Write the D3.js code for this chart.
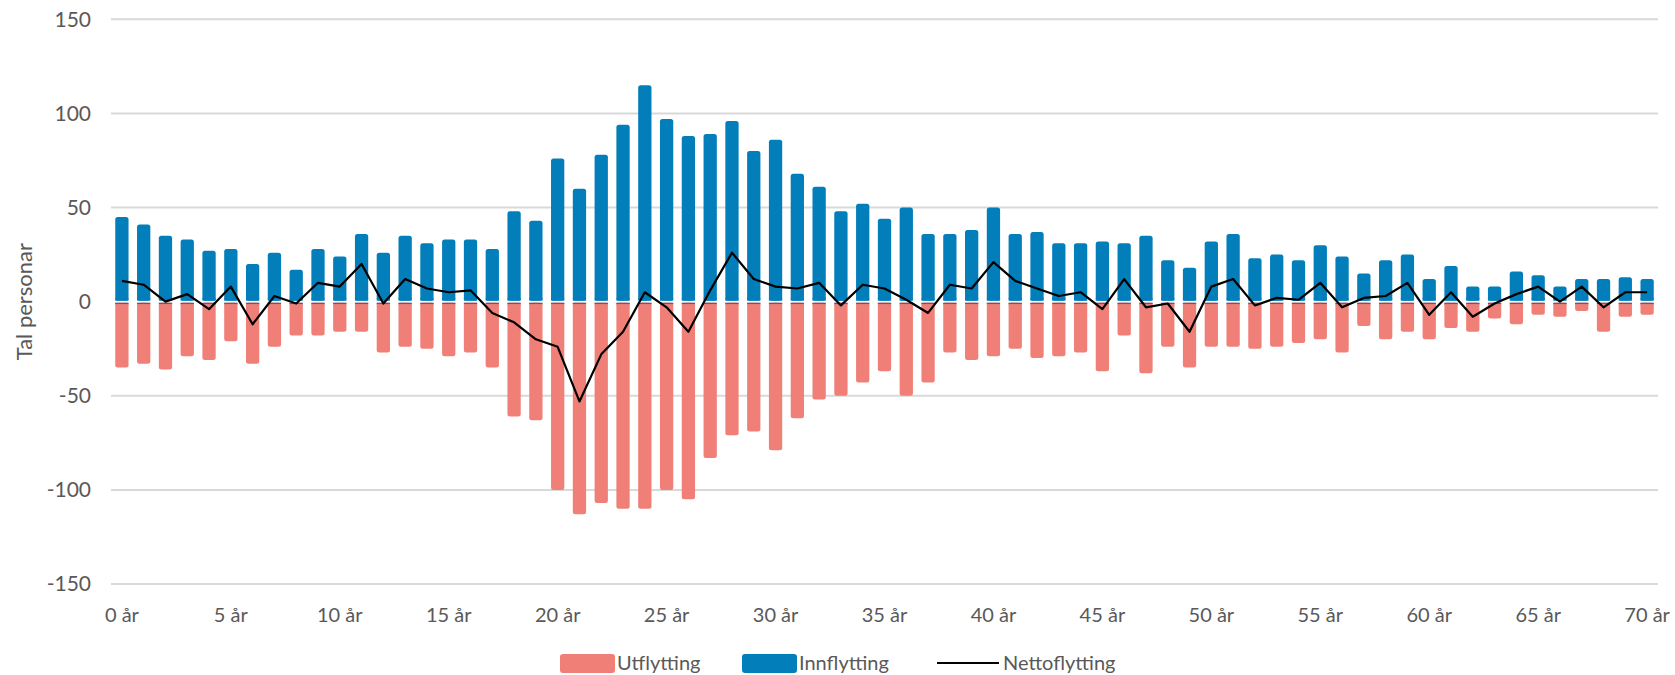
<!DOCTYPE html>
<html>
<head>
<meta charset="utf-8">
<script src="https://cdn.jsdelivr.net/npm/d3@7"></script>
<style>
  body { margin: 0; background: #fff; }
  svg text { font-family: Lato, "Open Sans", sans-serif; fill: #595959; }
</style>
</head>
<body>
<svg id="svg"></svg>
<script>
const width = 1675;
const height = 675;

// ages 0..70
const ages = d3.range(0, 71);
const tickAges = [0, 5, 10, 15, 20, 25, 30, 35, 40, 45, 50, 55, 60, 65, 70];
const yTicks = [-150, -100, -50, 0, 50, 100, 150];

const innflytting = [45, 41, 35, 33, 27, 28, 20, 26, 17, 28,
    24, 36, 26, 35, 31, 33, 33, 28, 48, 43,
    76, 60, 78, 94, 115, 97, 88, 89, 96, 80,
    86, 68, 61, 48, 52, 44, 50, 36, 36, 38,
    50, 36, 37, 31, 31, 32, 31, 35, 22, 18,
    32, 36, 23, 25, 22, 30, 24, 15, 22, 25,
    12, 19, 8, 8, 16, 14, 8, 12, 12, 13, 12];

const utflytting = [-35, -33, -36, -29, -31, -21, -33, -24, -18, -18,
    -16, -16, -27, -24, -25, -29, -27, -35, -61, -63,
    -100, -113, -107, -110, -110, -100, -105, -83, -71, -69,
    -79, -62, -52, -50, -43, -37, -50, -43, -27, -31,
    -29, -25, -30, -29, -27, -37, -18, -38, -24, -35,
    -24, -24, -25, -24, -22, -20, -27, -13, -20, -16,
    -20, -14, -16, -9, -12, -7, -8, -5, -16, -8, -7];

const nettoflytting = [11, 9, 0, 4, -4, 8, -12, 3, -1, 10,
    8, 20, -1, 12, 7, 5, 6, -6, -11, -20,
    -24, -53, -28, -16, 5, -3, -16, 6, 26, 12,
    8, 7, 10, -2, 9, 7, 1, -6, 9, 7,
    21, 11, 7, 3, 5, -4, 12, -3, -1, -16,
    8, 12, -2, 2, 1, 10, -3, 2, 3, 10,
    -7, 5, -8, -1, 4, 8, 0, 8, -3, 5, 5];

const colUt = "#f08077";
const colInn = "#027fba";

let svg = d3.select("#svg").attr("width", width).attr("height", height);

const margin = { top: 19.3, right: 17, bottom: 91, left: 111 };
const chartWidth = width - margin.left - margin.right;
const chartHeight = height - margin.top - margin.bottom;

let chart = svg.append("g")
    .attr("transform", "translate(" + margin.left + "," + margin.top + ")");

let xScale = d3.scaleBand()
    .domain(ages)
    .range([0, chartWidth])
    .paddingInner(0.39)
    .paddingOuter(0.195);

let yScale = d3.scaleLinear()
    .domain([-150, 150])
    .range([chartHeight, 0]);

// gridlines (the zero line is hidden behind the bars' white gap)
chart.append("g")
    .selectAll("line")
    .data(yTicks.filter(d => d !== 0))
    .enter().append("line")
    .attr("x1", 0)
    .attr("x2", chartWidth)
    .attr("y1", d => yScale(d))
    .attr("y2", d => yScale(d))
    .attr("stroke", "#d9d9d9")
    .attr("stroke-width", 2);

// y axis labels, plain hyphen for negatives
let yAxis = chart.append("g")
    .call(d3.axisLeft(yScale).tickValues(yTicks).tickFormat(d => String(d)).tickSize(0).tickPadding(20));
yAxis.select(".domain").remove();
yAxis.selectAll("text")
    .style("font-size", "21px")
    .style("fill", "#595959")
    .style("font-family", "Lato, sans-serif");

// x axis labels
let xAxis = chart.append("g")
    .attr("transform", "translate(0," + chartHeight + ")")
    .call(d3.axisBottom(xScale).tickValues(tickAges).tickFormat(d => d + " år").tickSize(0).tickPadding(24));
xAxis.select(".domain").remove();
xAxis.selectAll("text")
    .style("font-size", "20px")
    .style("fill", "#595959")
    .style("font-family", "Lato, sans-serif");

const y0 = yScale(0);
const r = 2.5;

// utflytting bars (negative)
chart.selectAll(".bar-ut")
    .data(ages)
    .enter().append("rect")
    .attr("class", "bar-ut")
    .attr("x", d => xScale(d))
    .attr("y", y0 + 1)
    .attr("width", xScale.bandwidth())
    .attr("height", d => yScale(utflytting[d]) - y0 - 1)
    .attr("rx", r)
    .attr("fill", colUt);

// square off the top of the negative bars
chart.selectAll(".bar-ut-top")
    .data(ages)
    .enter().append("rect")
    .attr("x", d => xScale(d))
    .attr("y", y0 + 1)
    .attr("width", xScale.bandwidth())
    .attr("height", d => Math.min(r, yScale(utflytting[d]) - y0 - 1))
    .attr("fill", colUt);

// innflytting bars (positive)
chart.selectAll(".bar-inn")
    .data(ages)
    .enter().append("rect")
    .attr("class", "bar-inn")
    .attr("x", d => xScale(d))
    .attr("y", d => yScale(innflytting[d]))
    .attr("width", xScale.bandwidth())
    .attr("height", d => y0 - 1 - yScale(innflytting[d]))
    .attr("rx", r)
    .attr("fill", colInn);

chart.selectAll(".bar-inn-bottom")
    .data(ages)
    .enter().append("rect")
    .attr("x", d => xScale(d))
    .attr("y", y0 - 1 - r)
    .attr("width", xScale.bandwidth())
    .attr("height", r)
    .attr("fill", colInn);

// thin blue edge under the white gap
chart.selectAll(".zero-edge")
    .data(ages)
    .enter().append("rect")
    .attr("x", d => xScale(d))
    .attr("y", y0 + 1.2)
    .attr("width", xScale.bandwidth())
    .attr("height", 1.2)
    .attr("fill", colInn);

// netto line
const line = d3.line()
    .x(d => xScale(d) + xScale.bandwidth() / 2)
    .y(d => yScale(nettoflytting[d]));

chart.append("path")
    .datum(ages)
    .attr("d", line)
    .attr("fill", "none")
    .attr("stroke", "#000")
    .attr("stroke-width", 2.2)
    .attr("stroke-linejoin", "round");

// y label
svg.append("text")
    .attr("text-anchor", "middle")
    .attr("transform", "translate(32," + (margin.top + yScale(0)) + ") rotate(-90)")
    .style("font-size", "22px")
    .text("Tal personar");

// legend
const legendData = [
    { name: "Utflytting", color: colUt, type: "rect", x: 560 },
    { name: "Innflytting", color: colInn, type: "rect", x: 742 },
    { name: "Nettoflytting", color: "#000", type: "line", x: 937 }
];

const legend = svg.append("g").attr("class", "legend");
const legendY = 663;

const items = legend.selectAll(".legend-item")
    .data(legendData)
    .enter().append("g")
    .attr("class", "legend-item")
    .attr("transform", d => `translate(${d.x}, ${legendY})`);

items.filter(d => d.type === "rect").append("rect")
    .attr("x", 0)
    .attr("y", -9)
    .attr("width", 55)
    .attr("height", 19)
    .attr("rx", 3)
    .attr("fill", d => d.color);

items.filter(d => d.type === "line").append("line")
    .attr("x1", 0)
    .attr("x2", 62)
    .attr("y1", 0)
    .attr("y2", 0)
    .attr("stroke", "#000")
    .attr("stroke-width", 2.2);

items.append("text")
    .attr("x", d => d.type === "line" ? 66 : 57)
    .attr("dy", "0.35em")
    .style("font-size", "20px")
    .text(d => d.name);
</script>
</body>
</html>
